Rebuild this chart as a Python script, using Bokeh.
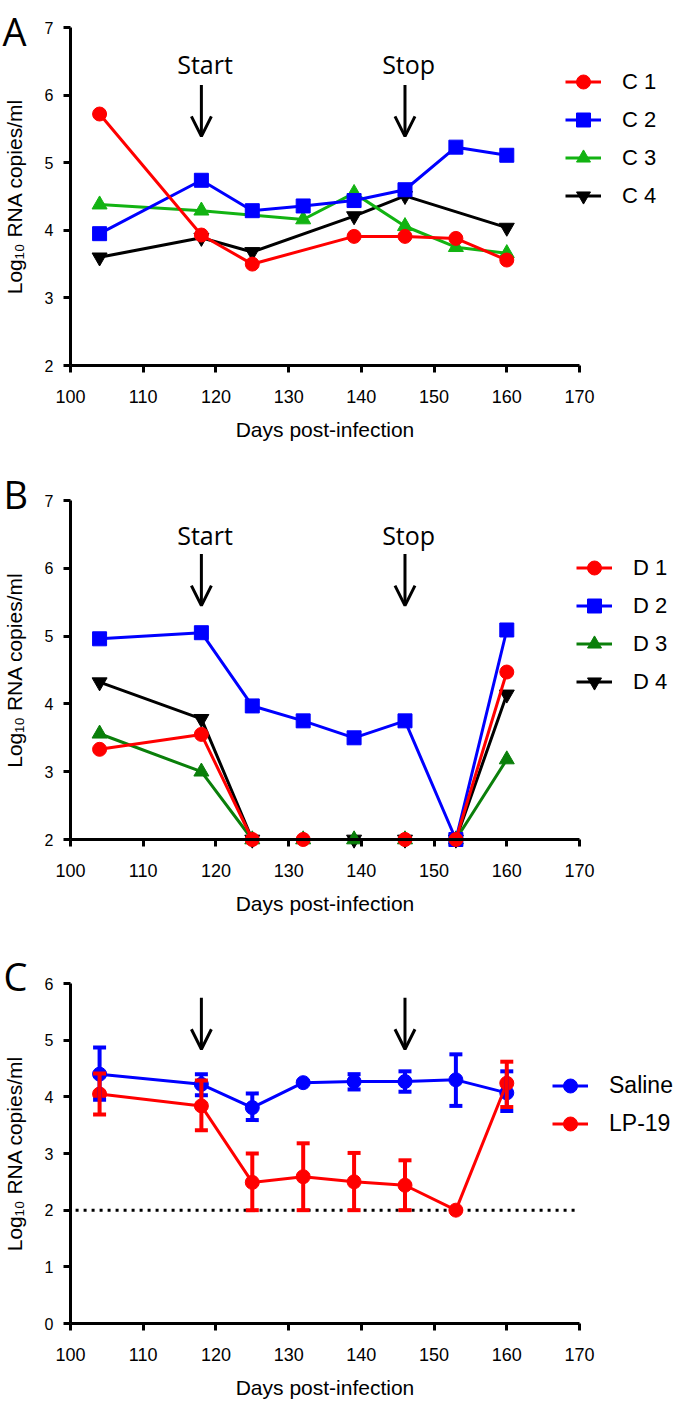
from bokeh.plotting import figure
from bokeh.layouts import column
from bokeh.models import (ColumnDataSource, Legend, LegendItem, Label, Arrow, OpenHead,
                          Whisker, TeeHead, FixedTicker, Range1d)
from bokeh.embed import file_html
from bokeh.resources import INLINE

# ---------------- data ----------------
days = [104, 118, 125, 132, 139, 146, 153, 160]
x_ticks = [100, 110, 120, 130, 140, 150, 160, 170]
start_day = 118
stop_day = 146

# Panel A (controls)
C1 = [5.72, 3.93, 3.50, None, 3.91, 3.91, 3.88, 3.56]
C2 = [3.95, 4.74, 4.29, 4.36, 4.44, 4.60, 5.23, 5.11]
C3 = [4.38, 4.29, None, 4.16, 4.55, 4.06, 3.75, 3.66]
C4 = [3.60, 3.89, 3.68, None, 4.21, 4.51, None, 4.04]

# Panel B (treated)
D1 = [3.33, 3.55, 2.00, 2.00, None, 2.00, 2.00, 4.47]
D2 = [4.96, 5.05, 3.97, 3.75, 3.50, 3.75, 2.00, 5.09]
D3 = [3.56, 3.00, 2.00, 2.00, 2.00, 2.00, 2.00, 3.18]
D4 = [4.32, 3.78, 2.00, None, 2.00, 2.00, 2.00, 4.14]

# Panel C (group means with error bars)
saline_mean = [4.40, 4.22, 3.81, 4.25, 4.27, 4.27, 4.30, 4.07]
saline_upper = [4.87, 4.40, 4.06, 4.27, 4.40, 4.45, 4.75, 4.45]
saline_lower = [3.95, 4.03, 3.59, 4.23, 4.13, 4.09, 3.84, 3.75]
lp19_mean = [4.05, 3.84, 2.49, 2.59, 2.50, 2.44, 2.00, 4.24]
lp19_upper = [4.41, 4.29, 3.00, 3.18, 3.01, 2.88, 2.00, 4.62]
lp19_lower = [3.69, 3.41, 2.00, 2.00, 2.00, 2.00, 2.00, 3.82]
detection_limit = 2.0

RED = "#ff0000"
BLUE = "#0000ff"
GREEN_A = "#12b312"
GREEN_B = "#0a7f0a"
BLACK = "#000000"

TICK_FONT = "Liberation Sans"
TEXT_FONT = "Open Sans"
YLABEL = "Log\u2081\u2080 RNA copies/ml"
XLABEL = "Days post-infection"

W = 680
X_LEFT_PX, X_RIGHT_PX = 70, 579   # pixel positions of day 100 and day 170


def make_fig(height, ylo, yhi, ylo_px, yhi_px, yticks):
    """Frame covers the whole canvas; axes are pinned at day 100 / lowest tick."""
    xs = (X_RIGHT_PX - X_LEFT_PX) / (x_ticks[-1] - x_ticks[0])
    x0 = x_ticks[0] - X_LEFT_PX / xs
    x1 = x0 + W / xs
    ys = (ylo_px - yhi_px) / (yhi - ylo)
    y1 = yhi + yhi_px / ys
    y0 = ylo - (height - ylo_px) / ys
    p = figure(width=W, height=height, x_range=Range1d(x0, x1), y_range=Range1d(y0, y1),
               output_backend="svg", toolbar_location=None,
               min_border_left=0, min_border_right=0, min_border_top=0, min_border_bottom=0)
    p.title.visible = False
    p.xgrid.visible = False
    p.ygrid.visible = False
    p.outline_line_color = None
    p.background_fill_color = "white"
    p.border_fill_color = "white"
    xa = p.xaxis[0]
    ya = p.yaxis[0]
    xa.ticker = FixedTicker(ticks=x_ticks)
    ya.ticker = FixedTicker(ticks=yticks)
    xa.bounds = (x_ticks[0], x_ticks[-1])
    ya.bounds = (ylo, yhi)
    xa.fixed_location = ylo
    ya.fixed_location = x_ticks[0]
    for ax in (xa, ya):
        ax.axis_line_width = 3
        ax.axis_line_color = BLACK
        ax.major_tick_line_width = 3
        ax.major_tick_line_color = BLACK
        ax.major_tick_out = 7
        ax.major_tick_in = 0
        ax.minor_tick_line_color = None
        ax.major_label_text_font = TICK_FONT
        ax.major_label_text_color = BLACK
        ax.axis_label_text_font = TICK_FONT
        ax.axis_label_text_font_style = "normal"
        ax.axis_label_text_color = BLACK
        ax.axis_label_text_font_size = "21px"
    xa.major_label_text_font_size = "18px"
    ya.major_label_text_font_size = "16px"
    xa.major_label_standoff = 17
    ya.major_label_standoff = 10
    xa.axis_label_standoff = 12
    ya.axis_label_standoff = 16
    xa.axis_label = XLABEL
    ya.axis_label = YLABEL
    return p


def valid(vals):
    xs = [d for d, v in zip(days, vals) if v is not None]
    ys = [v for v in vals if v is not None]
    return xs, ys


def add_series(p, vals, color, marker, size):
    xs, ys = valid(vals)
    src = ColumnDataSource(dict(x=xs, y=ys))
    lr = p.line("x", "y", source=src, line_color=color, line_width=3)
    sr = p.scatter("x", "y", source=src, marker=marker, size=size,
                   fill_color=color, line_color=color)
    return [lr, sr]


def add_legend(p, items, vx, vy, fs):
    leg = Legend(items=items, location=(vx, vy), orientation="vertical",
                 glyph_width=36, glyph_height=35, label_height=35, label_width=20,
                 label_standoff=21, spacing=3, padding=0, margin=0,
                 border_line_color=None, background_fill_alpha=0,
                 label_text_font=TICK_FONT, label_text_font_size=fs,
                 label_text_color=BLACK)
    p.add_layout(leg, "center")


def add_arrows(p, y0, y1, texts, ytext):
    for d, t in zip([start_day, stop_day], texts):
        p.add_layout(Arrow(end=OpenHead(size=20, line_width=3, line_color=BLACK),
                           x_start=d, y_start=y0, x_end=d, y_end=y1,
                           line_width=3, line_color=BLACK))
        if t:
            p.add_layout(Label(x=d + 0.5, y=ytext, text=t, text_align="center",
                               text_baseline="middle", text_font=TEXT_FONT,
                               text_font_size="25px", text_color=BLACK))


def add_panel_label(p, txt, x, y):
    p.add_layout(Label(x=x, y=y, x_units="screen", y_units="screen", text=txt,
                       text_align="left", text_baseline="alphabetic",
                       text_font=TEXT_FONT, text_font_size="38px", text_color=BLACK))


# ---------------- Panel A ----------------
HA = 466
pA = make_fig(HA, 2, 7, 365, 27, [2, 3, 4, 5, 6, 7])
rA = {}
rA["C 4"] = add_series(pA, C4, BLACK, "inverted_triangle", 15)
rA["C 3"] = add_series(pA, C3, GREEN_A, "triangle", 15)
rA["C 2"] = add_series(pA, C2, BLUE, "square", 14)
rA["C 1"] = add_series(pA, C1, RED, "circle", 14)
add_legend(pA, [LegendItem(label=k, renderers=rA[k]) for k in ["C 1", "C 2", "C 3", "C 4"]],
           565, HA - 213, "22px")
add_arrows(pA, 6.15, 5.39, ["Start", "Stop"], 6.46)
add_panel_label(pA, "A", 2, HA - 30)

# ---------------- Panel B ----------------
HB = 464
pB = make_fig(HB, 2, 7, 373, 34, [2, 3, 4, 5, 6, 7])
rB = {}
rB["D 4"] = add_series(pB, D4, BLACK, "inverted_triangle", 15)
rB["D 3"] = add_series(pB, D3, GREEN_B, "triangle", 15)
rB["D 2"] = add_series(pB, D2, BLUE, "square", 14)
rB["D 1"] = add_series(pB, D1, RED, "circle", 14)
add_legend(pB, [LegendItem(label=k, renderers=rB[k]) for k in ["D 1", "D 2", "D 3", "D 4"]],
           576, HB - 233, "22px")
add_arrows(pB, 6.21, 5.45, ["Start", "Stop"], 6.49)
add_panel_label(pB, "B", 3, HB - 27)

# ---------------- Panel C ----------------
HC = 472
pC = make_fig(HC, 0, 6, 393, 53, [0, 1, 2, 3, 4, 5, 6])
pC.segment(x0=[x_ticks[0] + 0.7], x1=[x_ticks[-1]], y0=[detection_limit], y1=[detection_limit],
           line_color=BLACK, line_width=3, line_dash="3 5")


def add_group(p, mean, upper, lower, color):
    keep = [i for i in range(len(days)) if upper[i] != lower[i]]
    esrc = ColumnDataSource(dict(x=[days[i] for i in keep],
                                 upper=[upper[i] for i in keep],
                                 lower=[lower[i] for i in keep]))
    p.add_layout(Whisker(source=esrc, base="x", upper="upper", lower="lower",
                         line_color=color, line_width=4, level="glyph",
                         upper_head=TeeHead(size=13, line_color=color, line_width=4),
                         lower_head=TeeHead(size=13, line_color=color, line_width=4)))
    return add_series(p, mean, color, "circle", 14)


rs = add_group(pC, saline_mean, saline_upper, saline_lower, BLUE)
rl = add_group(pC, lp19_mean, lp19_upper, lp19_lower, RED)
add_legend(pC, [LegendItem(label="Saline", renderers=rs), LegendItem(label="LP-19", renderers=rl)],
           552, HC - 211, "23px")
add_arrows(pC, 5.75, 4.84, [None, None], 0)
add_panel_label(pC, "C", 3, HC - 45)

layout = column(pA, pB, pC, spacing=0)
open("out.html", "w").write(file_html(layout, INLINE))
